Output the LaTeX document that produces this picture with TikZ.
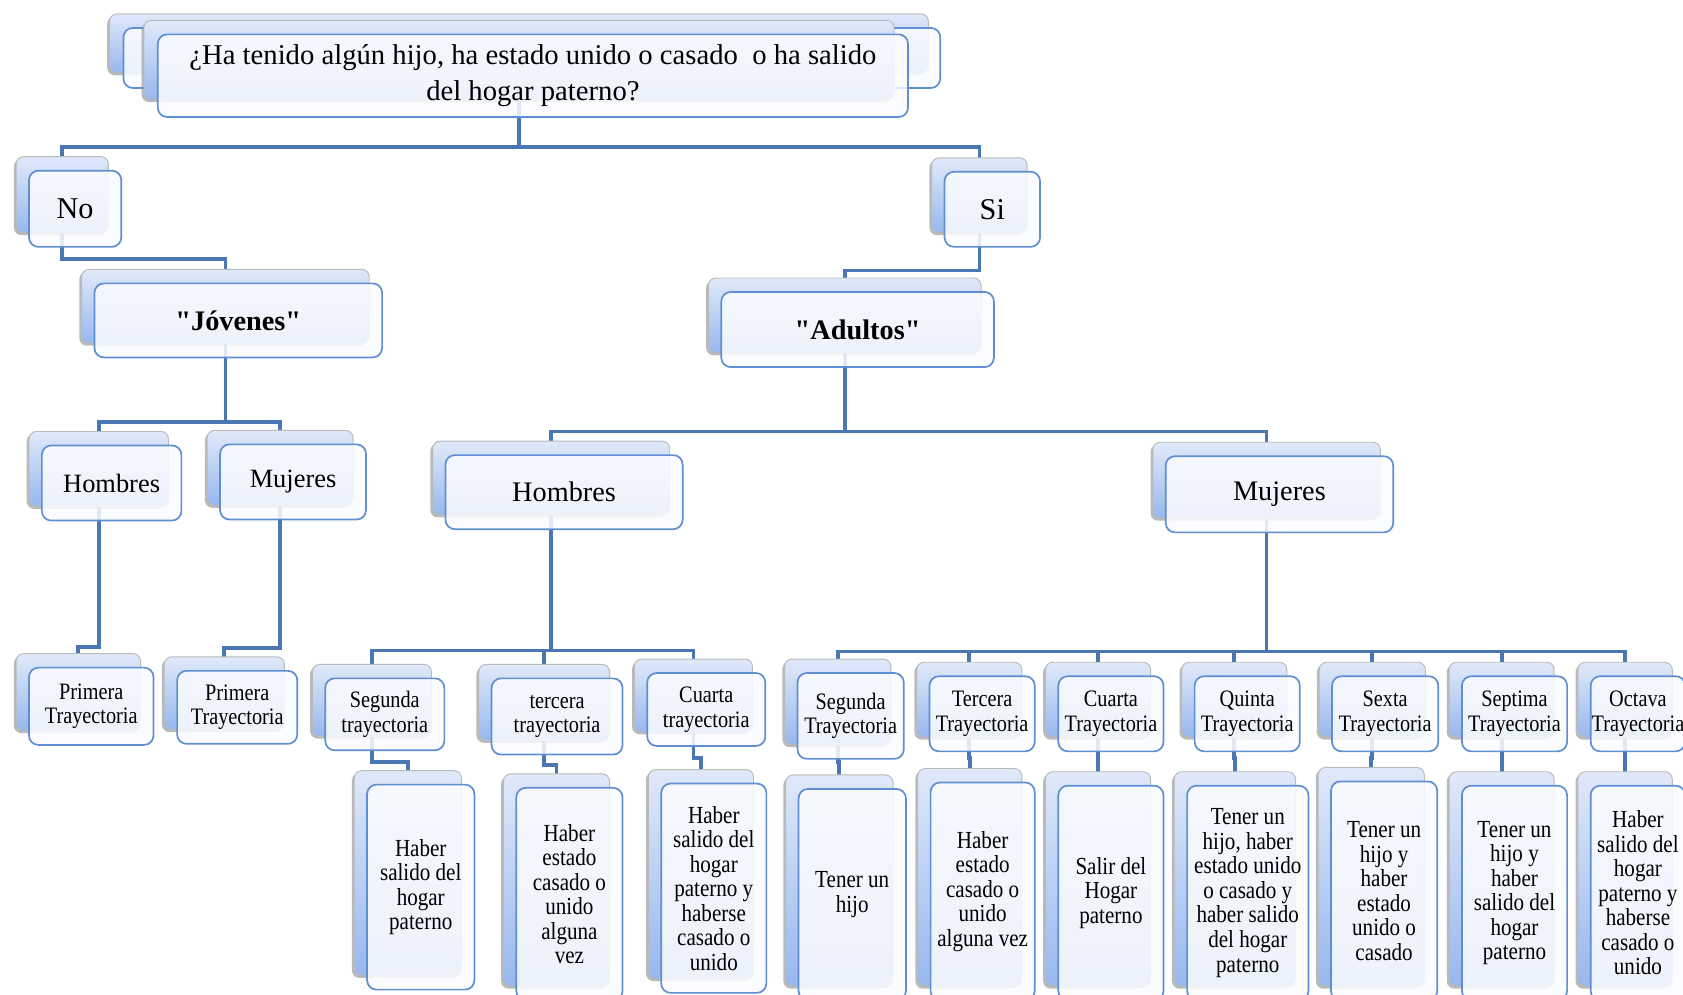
\documentclass[tikz,border=0pt]{standalone}
\usepackage{fontspec}
\setmainfont{Liberation Serif}
\newfontfamily\condserif[FakeStretch=0.86]{Liberation Serif}
\newfontfamily\plainserif{Liberation Serif}
\usetikzlibrary{shadows}
\pgfdeclarelayer{bg}
\pgfsetlayers{bg,main}
\definecolor{connblue}{HTML}{4A77B4}
\definecolor{edgeblue}{HTML}{5F8FD2}
\definecolor{backtop}{HTML}{E0E9F9}
\definecolor{backbot}{HTML}{97B7EE}
\definecolor{frontfill}{HTML}{FBFCFF}

\tikzset{
  conn/.style={draw=connblue, line width=2pt},
  backbox/.style={rounded corners=4pt, top color=backtop, bottom color=backbot,
    draw=gray!55, line width=0.5pt, inner sep=0pt, outer sep=0pt,
    drop shadow={shadow xshift=-1.2pt, shadow yshift=-1.2pt, opacity=0.45, fill=black!60}},
  plainbox/.style={rounded corners=5pt, fill=frontfill, fill opacity=0.85, text opacity=1,
    draw=edgeblue, line width=0.9pt, inner sep=0pt, outer sep=0pt, align=center},
  qtext/.style={font=\fontsize{15.2}{18.8}\selectfont},
  yesno/.style={font=\fontsize{16}{19}\selectfont},
  group/.style={font=\plainserif\fontsize{15}{18}\selectfont\bfseries},
  sexa/.style={font=\fontsize{15}{18}\selectfont},
  sexj/.style={font=\fontsize{14}{17}\selectfont},
  titletext/.style={font=\condserif\fontsize{12.5}{13}\selectfont},
  detailtext/.style={font=\condserif\fontsize{13}{13}\selectfont},
}

% front box #2 spanning (#3,#4)-(#5,#6) with a shaded box behind it, offset up-left
\newcommand\twobox[7][]{%
  \node[backbox, minimum width={(#5-#3)*0.02cm}, minimum height={(#6-#4)*0.02cm}]
    (#2b) at ({(#3+#5)/2-12},{(#4+#6)/2-13}) {};
  \node[plainbox, minimum width={(#5-#3)*0.02cm}, minimum height={(#6-#4)*0.02cm}, #1]
    (#2) at ({(#3+#5)/2},{(#4+#6)/2}) {#7};
}
% elbow connector: parent bottom, horizontal run at height #2, child top
\newcommand\link[3]{\draw[conn] (#1.south) -- (#1.south |- 0,#2) -| (#3.north);}

\begin{document}
\begin{tikzpicture}[x=0.02cm, y=-0.02cm]
\useasboundingbox (0,0) rectangle (1568,927);
\begin{pgfonlayer}{bg}
  \fill[white] (0,0) rectangle (1568,927);
\end{pgfonlayer}
\clip (0,0) rectangle (1568,927);

% question stack
\node[backbox, minimum width={(865-102)*0.02cm}, minimum height={(68-13)*0.02cm}] (qa) at ({(102+865)/2},{(13+68)/2}) {};
\node[plainbox, minimum width={(876-115)*0.02cm}, minimum height={(82-26)*0.02cm}] (qb) at ({(115+876)/2},{(26+82)/2}) {};
\node[backbox, minimum width={(833-134)*0.02cm}, minimum height={(93-19)*0.02cm}] (qc) at ({(134+833)/2},{(19+93)/2}) {};
\node[plainbox, qtext, minimum width={(846-147)*0.02cm}, minimum height={(108-31)*0.02cm}] (q) at ({(147+846)/2},{(31+108)/2+1})
  {¿Ha tenido algún hijo, ha estado unido o casado\ \ o ha salido\\del hogar paterno?};

\twobox[yesno]{no}{27}{159}{113}{230}{No}
\twobox[yesno]{si}{880}{160}{969}{230}{Si}
\twobox[group]{jov}{88}{264}{356}{333}{"Jóvenes"}
\twobox[group]{ad}{672}{272}{926}{342}{"Adultos"}
\twobox[sexj]{hj}{39}{415}{169}{485}{Hombres}
\twobox[sexj]{mj}{205}{414}{341}{484}{Mujeres}
\twobox[sexa]{ha}{415}{424}{636}{493}{Hombres}
\twobox[sexa]{ma}{1086}{425}{1298}{496}{Mujeres}

\twobox[titletext]{p1}{27}{622}{143}{694}{Primera\\Trayectoria}
\twobox[titletext]{p2}{165}{625}{277}{693}{Primera\\Trayectoria}

\twobox[titletext]{t2h}{303}{632}{414}{699}{Segunda\\trayectoria}
\twobox[titletext]{t3h}{458}{632}{580}{703}{tercera\\trayectoria}
\twobox[titletext]{t4h}{603}{627}{713}{695}{Cuarta\\trayectoria}
\twobox[detailtext]{d2h}{342}{731}{442}{922}{Haber\\salido del\\hogar\\paterno}
\twobox[detailtext]{d3h}{481}{734}{580}{932}{Haber\\estado\\casado o\\unido\\alguna\\vez}
\twobox[detailtext]{d4h}{616}{730}{714}{925}{Haber\\salido del\\hogar\\paterno y\\haberse\\casado o\\unido}

\twobox[titletext]{t2m}{743}{627}{842}{707}{Segunda\\Trayectoria}
\twobox[titletext]{t3m}{866}{630}{964}{700}{Tercera\\Trayectoria}
\twobox[titletext]{t4m}{986}{630}{1084}{700}{Cuarta\\Trayectoria}
\twobox[titletext]{t5m}{1113}{630}{1211}{700}{Quinta\\Trayectoria}
\twobox[titletext]{t6m}{1241}{630}{1340}{700}{Sexta\\Trayectoria}
\twobox[titletext]{t7m}{1362}{630}{1460}{700}{Septima\\Trayectoria}
\twobox[titletext]{t8m}{1482}{630}{1570}{700}{Octava\\Trayectoria}

\twobox[detailtext]{d2m}{744}{735}{844}{932}{Tener un\\hijo}
\twobox[detailtext]{d3m}{867}{729}{964}{932}{Haber\\estado\\casado o\\unido\\alguna vez}
\twobox[detailtext]{d4m}{986}{732}{1084}{932}{Salir del\\Hogar\\paterno}
\twobox[detailtext]{d5m}{1106}{732}{1219}{932}{Tener un\\hijo, haber\\estado unido\\o casado y\\haber salido\\del hogar\\paterno}
\twobox[detailtext]{d6m}{1240}{728}{1339}{932}{Tener un\\hijo y\\haber\\estado\\unido o\\casado}
\twobox[detailtext]{d7m}{1362}{732}{1460}{932}{Tener un\\hijo y\\haber\\salido del\\hogar\\paterno}
\twobox[detailtext]{d8m}{1482}{732}{1570}{932}{Haber\\salido del\\hogar\\paterno y\\haberse\\casado o\\unido}

% connectors, drawn beneath the boxes
\begin{pgfonlayer}{bg}
  \link{qa}{137}{nob}
  \link{qa}{137}{sib}
  \link{nob}{241}{jovb}
  \link{jovb}{393}{hjb}
  \link{jovb}{393}{mjb}
  \link{hjb}{603}{p1b}
  \link{mjb}{604}{p2b}
  \link{sib}{252}{adb}
  \link{adb}{402}{hab}
  \link{adb}{402}{mab}
  \link{hab}{606}{t2hb}
  \link{hab}{606}{t3hb}
  \link{hab}{606}{t4hb}
  \link{t2hb}{710}{d2hb}
  \link{t3hb}{713}{d3hb}
  \link{t4hb}{706}{d4hb}
  \link{mab}{607}{t2mb}
  \link{mab}{607}{t3mb}
  \link{mab}{607}{t4mb}
  \link{mab}{607}{t5mb}
  \link{mab}{607}{t6mb}
  \link{mab}{607}{t7mb}
  \link{mab}{607}{t8mb}
  \link{t2mb}{710}{d2mb}
  \link{t3mb}{706}{d3mb}
  \link{t4mb}{706}{d4mb}
  \link{t5mb}{706}{d5mb}
  \link{t6mb}{706}{d6mb}
  \link{t7mb}{706}{d7mb}
  \link{t8mb}{706}{d8mb}
\end{pgfonlayer}
\end{tikzpicture}
\end{document}
